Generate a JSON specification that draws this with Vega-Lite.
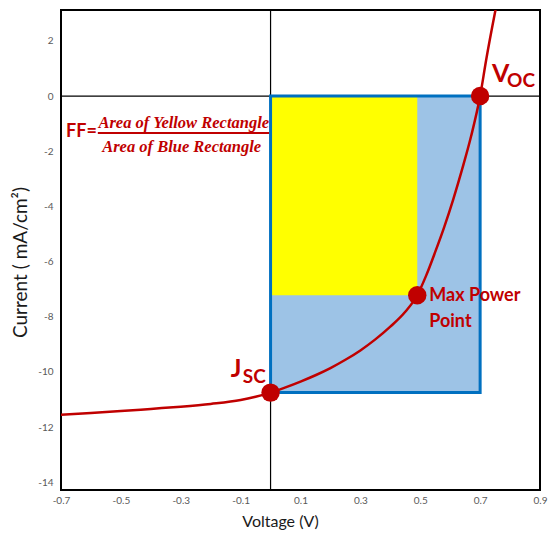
{
  "$schema": "https://vega.github.io/schema/vega-lite/v6.json",
  "width": 479,
  "height": 480,
  "autosize": {"type": "none"},
  "padding": {"left": 61, "top": 10, "right": 13, "bottom": 45},
  "background": "white",
  "config": {
    "view": {"stroke": "#000000", "strokeWidth": 2},
    "axis": {"grid": false, "ticks": false, "domain": false, "labelFont": "Lato", "labelFontSize": 10, "labelColor": "#595959", "titleFont": "Lato", "titleFontWeight": "normal", "titleColor": "#1a1a1a"}
  },
  "datasets": {
    "curve": [
      {"V": -0.7, "I": -11.55}, {"V": -0.6, "I": -11.49}, {"V": -0.5, "I": -11.42}, {"V": -0.4, "I": -11.34},
      {"V": -0.3, "I": -11.26}, {"V": -0.2, "I": -11.16}, {"V": -0.1, "I": -11.02}, {"V": -0.05, "I": -10.9},
      {"V": 0, "I": -10.75}, {"V": 0.05, "I": -10.56}, {"V": 0.1, "I": -10.35}, {"V": 0.15, "I": -10.12},
      {"V": 0.2, "I": -9.86}, {"V": 0.25, "I": -9.56}, {"V": 0.3, "I": -9.22}, {"V": 0.35, "I": -8.82},
      {"V": 0.4, "I": -8.36}, {"V": 0.45, "I": -7.82}, {"V": 0.49, "I": -7.22}, {"V": 0.52, "I": -6.5},
      {"V": 0.55, "I": -5.65}, {"V": 0.58, "I": -4.75}, {"V": 0.61, "I": -3.75}, {"V": 0.64, "I": -2.65},
      {"V": 0.67, "I": -1.45}, {"V": 0.7, "I": 0}, {"V": 0.72, "I": 1.3}, {"V": 0.76, "I": 3.6}
    ],
    "keypts": [{"V": 0, "I": -10.75}, {"V": 0.49, "I": -7.22}, {"V": 0.7, "I": 0}],
    "blue": [{"V": 0, "V2": 0.7, "I": -10.75, "I2": 0}],
    "yellow": [{"V": 0, "V2": 0.49, "I": -7.22, "I2": 0}],
    "hrule": [{"V": -0.7, "V2": 0.9, "I": 0}],
    "vrule": [{"V": 0, "I": -14.28, "I2": 3.12}],
    "big": [{"V": 0.74, "I": 0.51, "label": "V"}, {"V": -0.133, "I": -10.18, "label": "J"}],
    "sub": [{"V": 0.79, "I": 0.33, "label": "OC"}, {"V": -0.093, "I": -10.4, "label": "SC"}],
    "mpp": [{"V": 0.53, "I": -7.43, "label": "Max Power"}, {"V": 0.53, "I": -8.37, "label": "Point"}],
    "ff": [{"V": -0.683, "I": -1.49, "label": "FF="}],
    "frac": [{"V": -0.29, "I": -1.16, "label": "Area of Yellow Rectangle"}, {"V": -0.297, "I": -2.03, "label": "Area of Blue Rectangle"}],
    "bar": [{"V": -0.577, "V2": -0.005, "I": -1.34}]
  },
  "encoding": {
    "x": {
      "field": "V", "type": "quantitative",
      "scale": {"domain": [-0.7, 0.9], "nice": false, "zero": false},
      "axis": {"title": "Voltage (V)", "values": [-0.7, -0.5, -0.3, -0.1, 0.1, 0.3, 0.5, 0.7, 0.9], "labelExpr": "replace(format(datum.value, '.1f'), '\u2212', '-')", "labelFlush": false, "labelOverlap": false, "labelPadding": 5, "titleFontSize": 16, "titlePadding": 8, "titleX": 219}
    },
    "y": {
      "field": "I", "type": "quantitative",
      "scale": {"domain": [-14.28, 3.12], "nice": false, "zero": false},
      "axis": {"title": "Current ( mA/cm²)", "values": [-14, -12, -10, -8, -6, -4, -2, 0, 2], "labelExpr": "replace(format(datum.value, 'd'), '\u2212', '-')", "labelFlush": false, "labelOverlap": false, "labelPadding": 8, "titleFontSize": 19, "titlePadding": 7, "titleY": 252}
    }
  },
  "layer": [
    {"data": {"name": "hrule"}, "mark": {"type": "rule", "color": "#000000", "strokeWidth": 1.2}, "encoding": {"x2": {"field": "V2"}}},
    {"data": {"name": "vrule"}, "mark": {"type": "rule", "color": "#000000", "strokeWidth": 1.2}, "encoding": {"y2": {"field": "I2"}}},
    {"data": {"name": "blue"}, "mark": {"type": "rect", "fill": "#9dc3e6"}, "encoding": {"x2": {"field": "V2"}, "y2": {"field": "I2"}}},
    {"data": {"name": "yellow"}, "mark": {"type": "rect", "fill": "#ffff00"}, "encoding": {"x2": {"field": "V2"}, "y2": {"field": "I2"}}},
    {"data": {"name": "blue"}, "mark": {"type": "rect", "fillOpacity": 0, "stroke": "#0070c0", "strokeWidth": 3}, "encoding": {"x2": {"field": "V2"}, "y2": {"field": "I2"}}},
    {"data": {"name": "curve"}, "mark": {"type": "line", "clip": true, "color": "#c00000", "strokeWidth": 2.5, "interpolate": "monotone"}, "encoding": {}},
    {"data": {"name": "keypts"}, "mark": {"type": "circle", "size": 340, "color": "#c00000", "opacity": 1}, "encoding": {}},
    {"data": {"name": "big"}, "mark": {"type": "text", "align": "left", "baseline": "alphabetic", "font": "Lato", "fontWeight": "bold", "fontSize": 25, "color": "#c00000"}, "encoding": {"text": {"field": "label"}}},
    {"data": {"name": "sub"}, "mark": {"type": "text", "align": "left", "baseline": "alphabetic", "font": "Lato", "fontWeight": "bold", "fontSize": 19, "color": "#c00000"}, "encoding": {"text": {"field": "label"}}},
    {"data": {"name": "mpp"}, "mark": {"type": "text", "align": "left", "baseline": "alphabetic", "font": "Lato", "fontWeight": "bold", "fontSize": 18, "color": "#c00000"}, "encoding": {"text": {"field": "label"}}},
    {"data": {"name": "ff"}, "mark": {"type": "text", "align": "left", "baseline": "alphabetic", "font": "Lato", "fontWeight": "bold", "fontSize": 18, "color": "#c00000"}, "encoding": {"text": {"field": "label"}}},
    {"data": {"name": "frac"}, "mark": {"type": "text", "align": "center", "baseline": "alphabetic", "font": "Liberation Serif", "fontWeight": "bold", "fontStyle": "italic", "fontSize": 16.5, "color": "#c00000"}, "encoding": {"text": {"field": "label"}}},
    {"data": {"name": "bar"}, "mark": {"type": "rule", "color": "#c00000", "strokeWidth": 2}, "encoding": {"x2": {"field": "V2"}}}
  ]
}
